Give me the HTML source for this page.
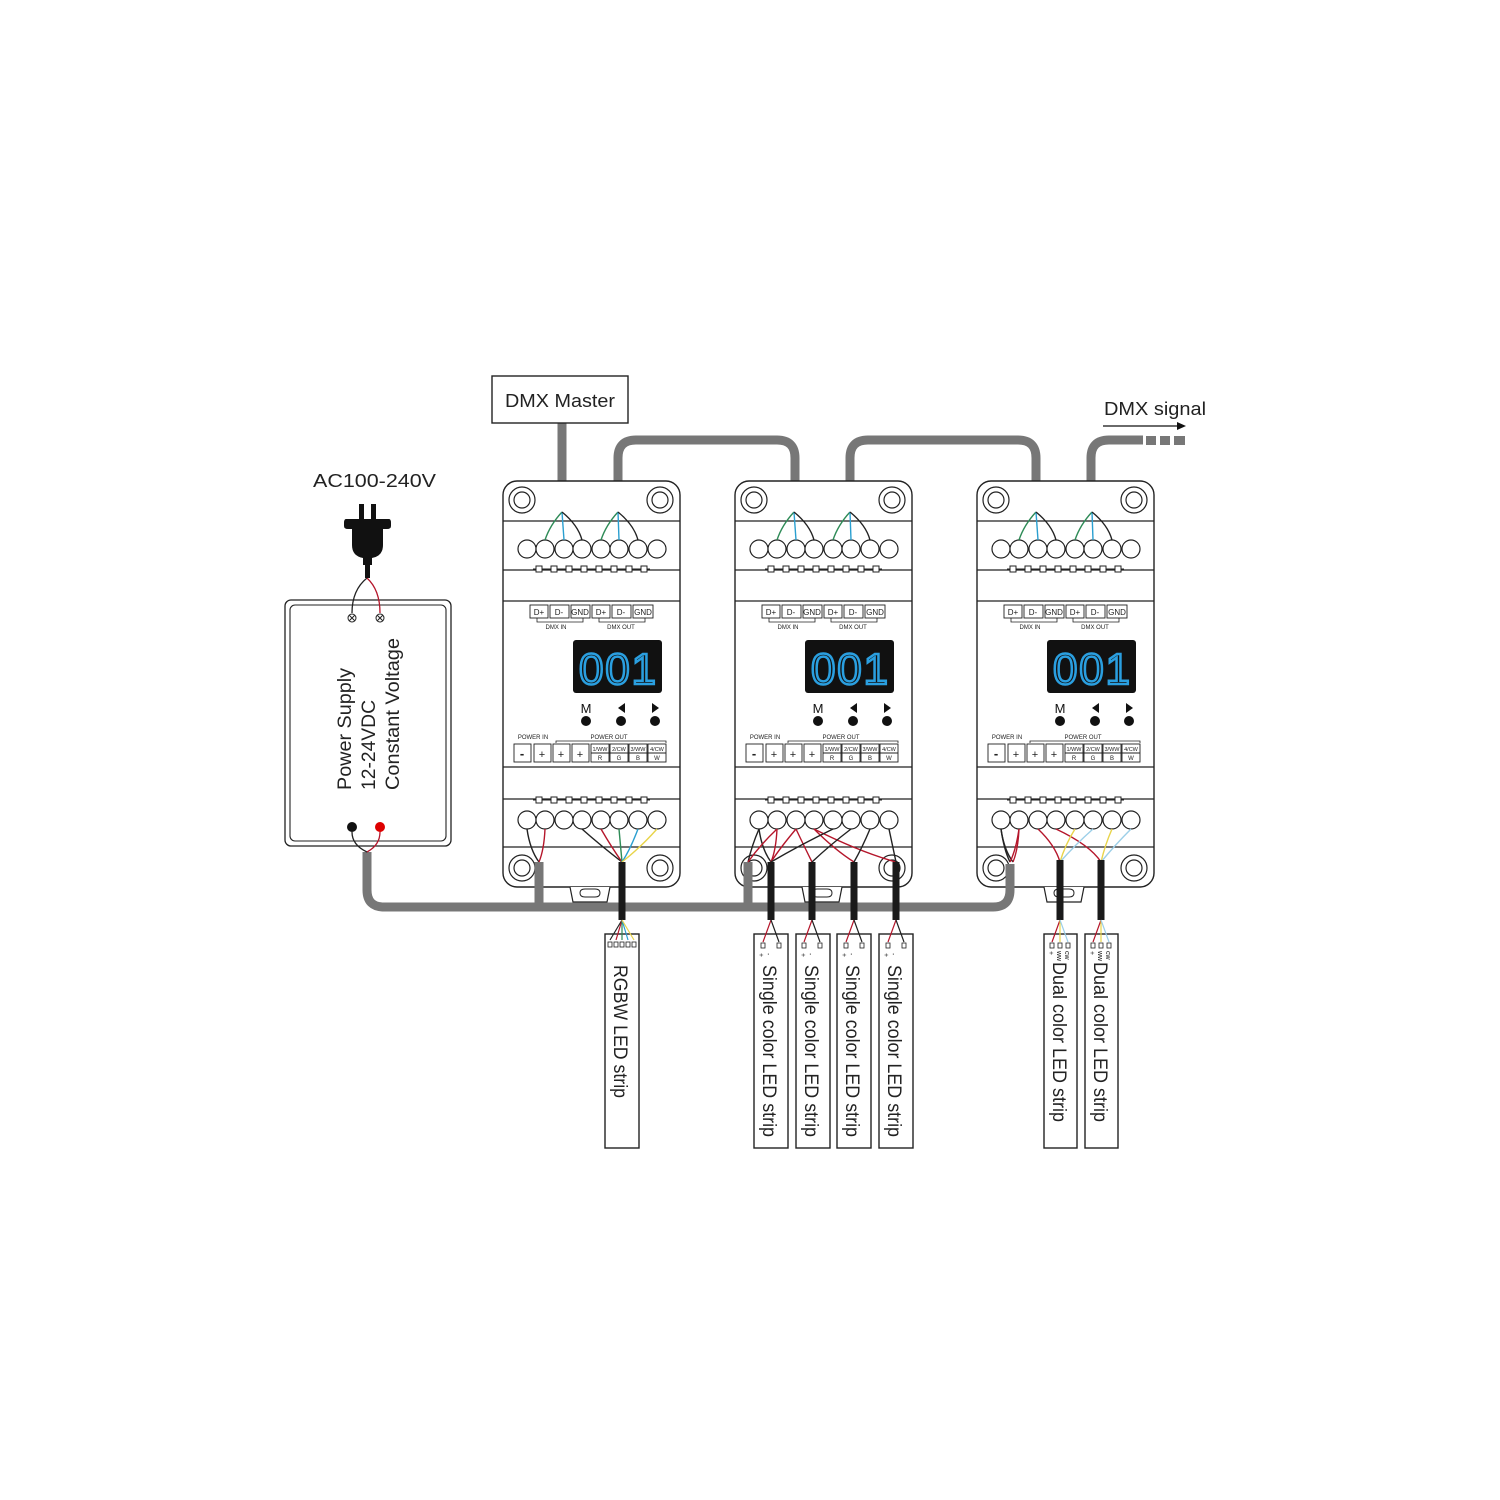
<!DOCTYPE html>
<html><head><meta charset="utf-8"><style>
html,body{margin:0;padding:0;background:#fff;}
svg{display:block;}
text{font-family:"Liberation Sans",sans-serif;}
</style></head><body>
<svg width="1500" height="1500" viewBox="0 0 1500 1500" xmlns="http://www.w3.org/2000/svg">
<defs>
<g id="ctrl">
  <rect x="503" y="481" width="177" height="406" rx="14" fill="#fff" stroke="#222" stroke-width="1.4"/>
  <line x1="503" y1="521" x2="680" y2="521" stroke="#222" stroke-width="1.2"/>
  <line x1="503" y1="570" x2="680" y2="570" stroke="#222" stroke-width="1.2"/>
  <line x1="503" y1="601" x2="680" y2="601" stroke="#222" stroke-width="1.2"/>
  <line x1="503" y1="767" x2="680" y2="767" stroke="#222" stroke-width="1.2"/>
  <line x1="503" y1="799" x2="680" y2="799" stroke="#222" stroke-width="1.2"/>
  <line x1="503" y1="847" x2="680" y2="847" stroke="#222" stroke-width="1.2"/>
  <g fill="none" stroke="#222" stroke-width="1.2">
    <circle cx="522" cy="500" r="13"/><circle cx="522" cy="500" r="8"/>
    <circle cx="660" cy="500" r="13"/><circle cx="660" cy="500" r="8"/>
    <circle cx="522" cy="868" r="13"/><circle cx="522" cy="868" r="8"/>
    <circle cx="660" cy="868" r="13"/><circle cx="660" cy="868" r="8"/>
  </g>
  <path d="M570 887 L573 902 L607 902 L610 887" fill="#fff" stroke="#222" stroke-width="1.2"/>
  <path d="M580 893 q0 -4 5 -4 h10 q5 0 5 4 q0 4 -5 4 h-10 q-5 0 -5 -4z" fill="none" stroke="#222" stroke-width="1"/>
  <g fill="#fff" stroke="#222" stroke-width="1">
    <line x1="533" y1="569" x2="650" y2="569"/>
    <rect x="536" y="566" width="6" height="6"/><rect x="551" y="566" width="6" height="6"/><rect x="566" y="566" width="6" height="6"/><rect x="581" y="566" width="6" height="6"/><rect x="596" y="566" width="6" height="6"/><rect x="611" y="566" width="6" height="6"/><rect x="626" y="566" width="6" height="6"/><rect x="641" y="566" width="6" height="6"/>
    <line x1="533" y1="800" x2="650" y2="800"/>
    <rect x="536" y="797" width="6" height="6"/><rect x="551" y="797" width="6" height="6"/><rect x="566" y="797" width="6" height="6"/><rect x="581" y="797" width="6" height="6"/><rect x="596" y="797" width="6" height="6"/><rect x="611" y="797" width="6" height="6"/><rect x="626" y="797" width="6" height="6"/><rect x="641" y="797" width="6" height="6"/>
  </g>
  <g fill="#fff" stroke="#222" stroke-width="1.2">
    <circle cx="527" cy="549" r="9"/><circle cx="545" cy="549" r="9"/><circle cx="564" cy="549" r="9"/><circle cx="582" cy="549" r="9"/><circle cx="601" cy="549" r="9"/><circle cx="619" cy="549" r="9"/><circle cx="638" cy="549" r="9"/><circle cx="657" cy="549" r="9"/>
    <circle cx="527" cy="820" r="9"/><circle cx="545" cy="820" r="9"/><circle cx="564" cy="820" r="9"/><circle cx="582" cy="820" r="9"/><circle cx="601" cy="820" r="9"/><circle cx="619" cy="820" r="9"/><circle cx="638" cy="820" r="9"/><circle cx="657" cy="820" r="9"/>
  </g>
  <g fill="none" stroke-width="1.4">
    <path d="M562 512 Q550 525 545 540" stroke="#2e8b57"/>
    <path d="M562 512 L564 540" stroke="#2a9fd0"/>
    <path d="M562 512 Q578 525 582 540" stroke="#222"/>
    <path d="M618 512 Q606 525 601 540" stroke="#2e8b57"/>
    <path d="M618 512 L619 540" stroke="#2a9fd0"/>
    <path d="M618 512 Q634 525 638 540" stroke="#222"/>
  </g>
  <g fill="#fff" stroke="#222" stroke-width="0.9">
    <rect x="530" y="605" width="18" height="13"/><rect x="550" y="605" width="19" height="13"/><rect x="571" y="605" width="19" height="13"/>
    <rect x="592" y="605" width="18" height="13"/><rect x="612" y="605" width="19" height="13"/><rect x="633" y="605" width="20" height="13"/>
  </g>
  <g font-size="8" fill="#222" text-anchor="middle">
    <text x="539" y="615">D+</text><text x="559" y="615">D-</text><text x="580" y="615">GND</text>
    <text x="601" y="615">D+</text><text x="621" y="615">D-</text><text x="643" y="615">GND</text>
  </g>
  <path d="M537 618 v4 h46 v-4 M599 618 v4 h46 v-4" fill="none" stroke="#222" stroke-width="0.8"/>
  <text x="556" y="629" font-size="6" fill="#222" text-anchor="middle">DMX IN</text>
  <text x="621" y="629" font-size="6" fill="#222" text-anchor="middle">DMX OUT</text>
  <rect x="573" y="640" width="89" height="53" rx="3" fill="#111"/>
  <text x="579" y="684" font-family="Liberation Mono,monospace" font-size="44" fill="none" stroke="#2a9fe0" stroke-width="2.5" textLength="77" lengthAdjust="spacing">001</text>
  <text x="586" y="713" font-size="13" fill="#111" text-anchor="middle">M</text>
  <path d="M625 703 v10 l-7 -5z" fill="#111"/>
  <path d="M652 703 v10 l7 -5z" fill="#111"/>
  <circle cx="586" cy="721" r="5" fill="#111"/><circle cx="621" cy="721" r="5" fill="#111"/><circle cx="655" cy="721" r="5" fill="#111"/>
  <text x="533" y="739" font-size="6" fill="#222" text-anchor="middle">POWER IN</text>
  <text x="609" y="739" font-size="6" fill="#222" text-anchor="middle">POWER OUT</text>
  <path d="M556 743 v-2 h110 v2" fill="none" stroke="#222" stroke-width="0.8"/>
  <g fill="#fff" stroke="#222" stroke-width="0.9">
    <rect x="514" y="744" width="17" height="18"/><rect x="534" y="744" width="17" height="18"/><rect x="553" y="744" width="17" height="18"/><rect x="572" y="744" width="17" height="18"/>
    <rect x="591" y="744" width="18" height="18"/><rect x="610" y="744" width="18" height="18"/><rect x="629" y="744" width="18" height="18"/><rect x="648" y="744" width="18" height="18"/>
    <line x1="591" y1="753" x2="666" y2="753"/>
  </g>
  <g fill="#222" text-anchor="middle">
    <text x="522" y="758" font-size="13" font-weight="bold">-</text><text x="542" y="758" font-size="11">+</text><text x="561" y="758" font-size="11">+</text><text x="580" y="758" font-size="11">+</text>
    <text x="600" y="751" font-size="5.5">1/WW</text><text x="619" y="751" font-size="5.5">2/CW</text><text x="638" y="751" font-size="5.5">3/WW</text><text x="657" y="751" font-size="5.5">4/CW</text>
    <text x="600" y="760" font-size="6">R</text><text x="619" y="760" font-size="6">G</text><text x="638" y="760" font-size="6">B</text><text x="657" y="760" font-size="6">W</text>
  </g>
  <path d="M527 829 Q530 850 539 862" fill="none" stroke="#222" stroke-width="1.4"/>
  <path d="M545 829 Q544 850 539 862" fill="none" stroke="#b5162b" stroke-width="1.4"/>
</g>
</defs>

<g fill="none" stroke="#777" stroke-width="9">
  <path d="M562 423 V512"/>
  <path d="M618 512 V458 Q618 440 636 440 H777 Q795 440 795 458 V512"/>
  <path d="M850 512 V458 Q850 440 868 440 H1018 Q1036 440 1036 458 V512"/>
  <path d="M1091 512 V458 Q1091 440 1109 440 H1143"/>
</g>
<g fill="#777"><rect x="1146" y="436" width="10" height="9"/><rect x="1160" y="436" width="10" height="9"/><rect x="1174" y="436" width="11" height="9"/></g>
<line x1="1103" y1="426" x2="1178" y2="426" stroke="#111" stroke-width="1.3"/>
<path d="M1186 426 l-9 -4 v8z" fill="#111"/>
<text x="1104" y="415" font-size="18" fill="#222" textLength="102" lengthAdjust="spacingAndGlyphs">DMX signal</text>

<rect x="492" y="376" width="136" height="47" fill="#fff" stroke="#222" stroke-width="1.4"/>
<text x="505" y="407" font-size="18" fill="#222" textLength="110" lengthAdjust="spacingAndGlyphs">DMX Master</text>

<use href="#ctrl"/>
<use href="#ctrl" transform="translate(232,0)"/>
<use href="#ctrl" transform="translate(474,0)"/>

<g fill="none" stroke="#777" stroke-width="9">
  <path d="M367 852 V890 Q367 907 384 907 H993 Q1010 907 1010 890 V864"/>
  <path d="M539 862 V907"/>
  <path d="M748 862 V907"/>
</g>

<g fill="none" stroke-width="1.4">
  <path d="M582 829 Q600 845 622 862" stroke="#222"/>
  <path d="M601 829 Q612 848 622 862" stroke="#b5162b"/>
  <path d="M619 829 L622 862" stroke="#2e8b57"/>
  <path d="M638 829 Q630 850 622 862" stroke="#2a9fd0"/>
  <path d="M657 829 Q640 848 622 862" stroke="#e8d44a"/>
</g>
<g fill="none" stroke-width="1.4">
  <path d="M759 829 Q752 845 748 862" stroke="#222"/>
  <path d="M777 829 Q760 845 748 862" stroke="#b5162b"/>
  <path d="M796 829 Q780 848 771 862" stroke="#b5162b"/>
  <path d="M796 829 Q805 848 812 862" stroke="#b5162b"/>
  <path d="M814 829 Q835 850 854 862" stroke="#b5162b"/>
  <path d="M814 829 Q860 852 896 862" stroke="#b5162b"/>
  <path d="M833 829 Q800 845 771 862" stroke="#222"/>
  <path d="M851 829 Q830 845 812 862" stroke="#222"/>
  <path d="M870 829 Q862 848 854 862" stroke="#222"/>
  <path d="M889 829 Q893 848 896 862" stroke="#222"/>
</g>
<g fill="none" stroke-width="1.4">
  <path d="M1001 829 Q1004 850 1010 862" stroke="#222"/>
  <path d="M1019 829 Q1016 850 1010 862" stroke="#b5162b"/>
  <path d="M1038 829 Q1055 845 1060 862" stroke="#b5162b"/>
  <path d="M1056 829 Q1090 845 1101 862" stroke="#b5162b"/>
  <path d="M1075 829 Q1065 845 1060 862" stroke="#e8d44a"/>
  <path d="M1093 829 Q1075 845 1060 862" stroke="#9ccfe8"/>
  <path d="M1112 829 Q1105 845 1101 862" stroke="#e8d44a"/>
  <path d="M1131 829 Q1115 845 1101 862" stroke="#9ccfe8"/>
</g>

<g stroke="#1a1a1a" stroke-width="7">
  <line x1="622" y1="862" x2="622" y2="920"/>
  <line x1="771" y1="862" x2="771" y2="920"/>
  <line x1="812" y1="862" x2="812" y2="920"/>
  <line x1="854" y1="862" x2="854" y2="920"/>
  <line x1="896" y1="862" x2="896" y2="920"/>
  <line x1="1060" y1="860" x2="1060" y2="920"/>
  <line x1="1101" y1="860" x2="1101" y2="920"/>
</g>

<g fill="#fff" stroke="#222" stroke-width="1.4">
  <rect x="605" y="934" width="34" height="214"/>
  <rect x="754" y="934" width="34" height="214"/>
  <rect x="796" y="934" width="34" height="214"/>
  <rect x="837" y="934" width="34" height="214"/>
  <rect x="879" y="934" width="34" height="214"/>
  <rect x="1044" y="934" width="33" height="214"/>
  <rect x="1085" y="934" width="33" height="214"/>
</g>
<g fill="none" stroke-width="1.2">
  <path d="M622 920 L610 940" stroke="#222"/><path d="M622 920 L616 940" stroke="#b5162b"/><path d="M622 920 L622 940" stroke="#2e8b57"/><path d="M622 920 L628 940" stroke="#2a9fd0"/><path d="M622 920 L634 940" stroke="#e8d44a"/>
  <path d="M771 920 L763 942" stroke="#b5162b"/><path d="M771 920 L779 942" stroke="#222"/>
  <path d="M812 920 L804 942" stroke="#b5162b"/><path d="M812 920 L820 942" stroke="#222"/>
  <path d="M854 920 L846 942" stroke="#b5162b"/><path d="M854 920 L862 942" stroke="#222"/>
  <path d="M896 920 L888 942" stroke="#b5162b"/><path d="M896 920 L904 942" stroke="#222"/>
  <path d="M1060 920 L1052 942" stroke="#b5162b"/><path d="M1060 920 L1060 942" stroke="#e8d44a"/><path d="M1060 920 L1068 942" stroke="#9ccfe8"/>
  <path d="M1101 920 L1093 942" stroke="#b5162b"/><path d="M1101 920 L1101 942" stroke="#e8d44a"/><path d="M1101 920 L1109 942" stroke="#9ccfe8"/>
</g>
<g fill="#fff" stroke="#222" stroke-width="0.8">
  <rect x="608" y="942" width="4" height="5"/><rect x="614" y="942" width="4" height="5"/><rect x="620" y="942" width="4" height="5"/><rect x="626" y="942" width="4" height="5"/><rect x="632" y="942" width="4" height="5"/>
  <rect x="761" y="943" width="4" height="5"/><rect x="777" y="943" width="4" height="5"/>
  <rect x="802" y="943" width="4" height="5"/><rect x="818" y="943" width="4" height="5"/>
  <rect x="844" y="943" width="4" height="5"/><rect x="860" y="943" width="4" height="5"/>
  <rect x="886" y="943" width="4" height="5"/><rect x="902" y="943" width="4" height="5"/>
  <rect x="1050" y="943" width="4" height="5"/><rect x="1058" y="943" width="4" height="5"/><rect x="1066" y="943" width="4" height="5"/>
  <rect x="1091" y="943" width="4" height="5"/><rect x="1099" y="943" width="4" height="5"/><rect x="1107" y="943" width="4" height="5"/>
</g>
<g font-size="19" fill="#222">
  <text transform="translate(614,965) rotate(90)" textLength="133" lengthAdjust="spacingAndGlyphs">RGBW LED strip</text>
  <text transform="translate(763,965) rotate(90)" textLength="172" lengthAdjust="spacingAndGlyphs">Single color LED strip</text>
  <text transform="translate(805,965) rotate(90)" textLength="172" lengthAdjust="spacingAndGlyphs">Single color LED strip</text>
  <text transform="translate(846,965) rotate(90)" textLength="172" lengthAdjust="spacingAndGlyphs">Single color LED strip</text>
  <text transform="translate(888,965) rotate(90)" textLength="172" lengthAdjust="spacingAndGlyphs">Single color LED strip</text>
  <text transform="translate(1053,962) rotate(90)" textLength="160" lengthAdjust="spacingAndGlyphs">Dual color LED strip</text>
  <text transform="translate(1094,962) rotate(90)" textLength="160" lengthAdjust="spacingAndGlyphs">Dual color LED strip</text>
</g>
<g font-size="7" fill="#222">
  <text transform="translate(766,953) rotate(90)">-</text><text transform="translate(759,953) rotate(90)">+</text>
  <text transform="translate(808,953) rotate(90)">-</text><text transform="translate(801,953) rotate(90)">+</text>
  <text transform="translate(849,953) rotate(90)">-</text><text transform="translate(842,953) rotate(90)">+</text>
  <text transform="translate(891,953) rotate(90)">-</text><text transform="translate(884,953) rotate(90)">+</text>
  <text transform="translate(1049,951) rotate(90)">+</text><text transform="translate(1057,951) rotate(90)">ww</text><text transform="translate(1065,951) rotate(90)">cw</text>
  <text transform="translate(1090,951) rotate(90)">+</text><text transform="translate(1098,951) rotate(90)">ww</text><text transform="translate(1106,951) rotate(90)">cw</text>
</g>

<rect x="285" y="600" width="166" height="246" rx="6" fill="#fff" stroke="#222" stroke-width="1.3"/>
<rect x="290" y="605" width="156" height="236" rx="5" fill="none" stroke="#222" stroke-width="1.1"/>
<g fill="none" stroke="#222" stroke-width="1">
  <circle cx="352" cy="618" r="4"/><path d="M349 615 l6 6 M355 615 l-6 6"/>
  <circle cx="380" cy="618" r="4"/><path d="M377 615 l6 6 M383 615 l-6 6"/>
</g>
<path d="M367 578 Q352 590 352 613" fill="none" stroke="#222" stroke-width="1.3"/>
<path d="M367 578 Q380 590 380 613" fill="none" stroke="#b5162b" stroke-width="1.3"/>
<circle cx="352" cy="827" r="5" fill="#111"/><circle cx="380" cy="827" r="5" fill="#d00"/>
<path d="M352 832 Q352 845 367 852" fill="none" stroke="#222" stroke-width="1.3"/>
<path d="M380 832 Q380 845 367 852" fill="none" stroke="#b5162b" stroke-width="1.3"/>
<g font-size="19" fill="#222">
  <text transform="translate(351,790) rotate(-90)" textLength="122" lengthAdjust="spacingAndGlyphs">Power Supply</text>
  <text transform="translate(375,790) rotate(-90)" textLength="90" lengthAdjust="spacingAndGlyphs">12-24VDC</text>
  <text transform="translate(399,790) rotate(-90)" textLength="152" lengthAdjust="spacingAndGlyphs">Constant Voltage</text>
</g>
<g fill="#111">
  <rect x="359" y="504" width="5" height="16"/><rect x="371" y="504" width="5" height="16"/>
  <path d="M346 519 H389 Q391 519 391 523 V526 Q391 529 387 529 H383 V545 Q383 556 372 558 V565 H363 V558 Q352 556 352 545 V529 H348 Q344 529 344 526 V523 Q344 519 346 519z"/>
  <rect x="365" y="564" width="5" height="14"/>
</g>
<text x="313" y="487" font-size="18" fill="#222" textLength="123" lengthAdjust="spacingAndGlyphs">AC100-240V</text>
</svg>
</body></html>
